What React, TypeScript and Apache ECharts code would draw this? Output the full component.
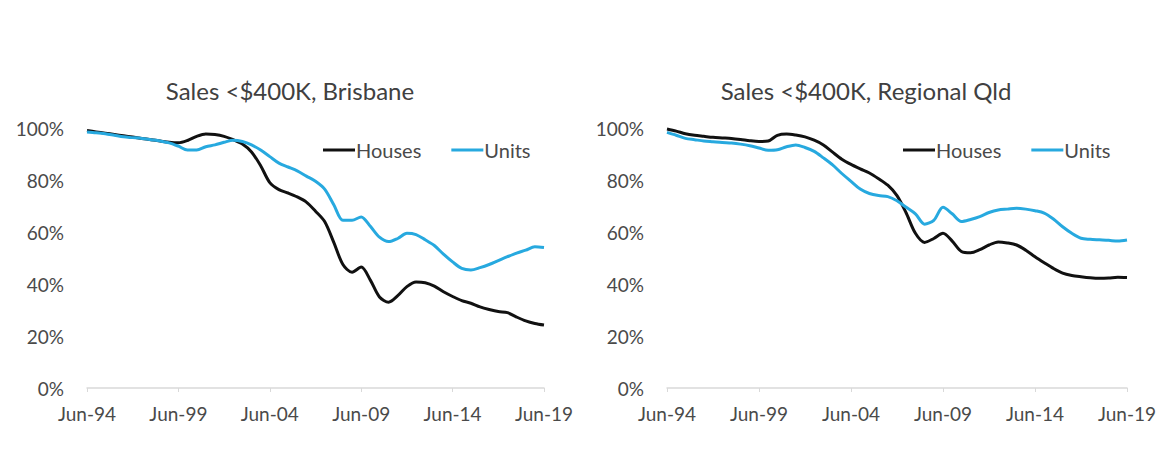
import React, { useEffect, useRef } from "react";
import * as echarts from "echarts";

const categories = [
  "Jun-94","Dec-94","Jun-95","Dec-95","Jun-96","Dec-96","Jun-97","Dec-97","Jun-98","Dec-98",
  "Jun-99","Dec-99","Jun-00","Dec-00","Jun-01","Dec-01","Jun-02","Dec-02","Jun-03","Dec-03",
  "Jun-04","Dec-04","Jun-05","Dec-05","Jun-06","Dec-06","Jun-07","Dec-07","Jun-08","Dec-08",
  "Jun-09","Dec-09","Jun-10","Dec-10","Jun-11","Dec-11","Jun-12","Dec-12","Jun-13","Dec-13",
  "Jun-14","Dec-14","Jun-15","Dec-15","Jun-16","Dec-16","Jun-17","Dec-17","Jun-18","Dec-18",
  "Jun-19",
];

const brisbaneHouses = [
  99, 98.5, 98, 97.5, 97, 96.5, 96, 95.5, 95, 94.5,
  94.3, 95.2, 96.8, 97.7, 97.5, 96.8, 95.5, 93.8, 90.8, 85.5,
  79, 76.3, 75, 73.5, 71.5, 68, 64, 56, 47.5, 44.5,
  46.5, 41.5, 35, 33, 35.5, 39, 40.8, 40.5, 39.2, 37,
  35.2, 33.6, 32.6, 31.2, 30.2, 29.4, 29, 27.3, 25.8, 24.8,
  24.2,
];

const brisbaneUnits = [
  98.5, 98.2, 97.8, 97.2, 96.6, 96.3, 96, 95.5, 95, 94.3,
  93, 91.5, 91.5, 92.8, 93.5, 94.5, 95.3, 94.8, 93.5, 91.5,
  89, 86.5, 85, 83.5, 81.5, 79.5, 76.5, 70.5, 64.5, 64.5,
  65.8, 62.2, 58, 56.3, 57.5, 59.5, 59, 57, 54.8, 51.5,
  48.5, 46, 45.4, 46.3, 47.5, 49, 50.5, 51.9, 53, 54.3,
  54,
];

const regionalHouses = [
  99.6, 98.8, 97.8, 97.2, 96.8, 96.4, 96.2, 96, 95.6, 95.1,
  94.8, 95, 97.2, 97.7, 97.3, 96.6, 95.3, 93.5, 90.7, 88,
  86, 84.3, 82.7, 80.5, 78, 74, 67.3, 59.5, 56, 57.5,
  59.5, 56.5, 52.5, 52, 53.2, 55, 56.2, 55.8, 55, 53,
  50.5, 48.2, 46, 44.2, 43.3, 42.8, 42.4, 42.2, 42.3, 42.6,
  42.5,
];

const regionalUnits = [
  98.3, 97.2, 96, 95.5, 95, 94.7, 94.4, 94.2, 93.8, 93.2,
  92.3, 91.4, 91.6, 92.8, 93.5, 92.5, 91, 88.5, 85.8, 82.5,
  79.5, 76.5, 74.8, 74, 73.6, 72, 69.5, 67, 63, 64.5,
  69.5, 67, 64, 64.8, 65.9, 67.5, 68.5, 68.8, 69.1, 68.8,
  68.2, 67.3, 65, 62, 59.5, 57.6, 57.2, 57, 56.8, 56.5,
  56.9,
];

const titles = ["Sales <$400K, Brisbane", "Sales <$400K, Regional Qld"];
const seriesNames = ["Houses", "Units"];

const FONT = "Lato, 'Open Sans', sans-serif";
const LABEL_COLOR = "#4a4a4a";
const HOUSE_COLOR = "#111111";
const UNIT_COLOR = "#27a9df";

export default function App() {
  const ref = useRef<HTMLDivElement>(null);

  useEffect(() => {
    if (!ref.current) return;
    const chart = echarts.init(ref.current, undefined, { renderer: "svg" });

    const grids = [
      { left: 87, right: 1160 - 544, top: 128, bottom: 80 },
      { left: 667, right: 1160 - 1127, top: 128, bottom: 80 },
    ];

    const mkX = (i: number) => ({
      type: "category",
      gridIndex: i,
      data: categories,
      boundaryGap: false,
      axisLine: { show: true, lineStyle: { color: "#d9d9d9", width: 1.5 } },
      axisTick: { show: true, interval: 9, length: 4, lineStyle: { color: "#d9d9d9" } },
      axisLabel: {
        interval: 9,
        color: LABEL_COLOR,
        fontFamily: FONT,
        fontSize: 19,
        margin: 16,
      },
      splitLine: { show: false },
    });

    const mkY = (i: number) => ({
      type: "value",
      gridIndex: i,
      min: 0,
      max: 100,
      interval: 20,
      axisLine: { show: false },
      axisTick: { show: false },
      splitLine: { show: false },
      axisLabel: {
        formatter: "{value}%",
        color: LABEL_COLOR,
        fontFamily: FONT,
        fontSize: 19,
        margin: 23,
      },
    });

    const line = (name: string, data: number[], idx: number, color: string) => ({
      name,
      type: "line",
      xAxisIndex: idx,
      yAxisIndex: idx,
      data,
      showSymbol: false,
      smooth: 0.3,
      lineStyle: { color, width: 3 },
      itemStyle: { color },
      z: name === "Houses" ? 2 : 3,
    });

    const legend = (left: number) => ({
      left,
      top: 135,
      data: seriesNames,
      icon: "rect",
      itemWidth: 32,
      itemHeight: 3,
      itemGap: 30,
      selectedMode: false,
      textStyle: {
        color: LABEL_COLOR,
        fontFamily: FONT,
        fontSize: 20,
        padding: [0, 0, 0, -4],
      },
    });

    chart.setOption({
      animation: false,
      backgroundColor: "#ffffff",
      grid: grids,
      xAxis: [mkX(0), mkX(1)],
      yAxis: [mkY(0), mkY(1)],
      legend: [legend(318), legend(898)],
      graphic: [
        {
          type: "text",
          x: 290,
          y: 90,
          style: {
            text: titles[0],
            fill: "#404040",
            font: `24px ${FONT}`,
            textAlign: "center",
            textVerticalAlign: "middle",
          },
        },
        {
          type: "text",
          x: 866,
          y: 90,
          style: {
            text: titles[1],
            fill: "#404040",
            font: `24px ${FONT}`,
            textAlign: "center",
            textVerticalAlign: "middle",
          },
        },
      ],
      series: [
        line(seriesNames[0], brisbaneHouses, 0, HOUSE_COLOR),
        line(seriesNames[1], brisbaneUnits, 0, UNIT_COLOR),
        line(seriesNames[0], regionalHouses, 1, HOUSE_COLOR),
        line(seriesNames[1], regionalUnits, 1, UNIT_COLOR),
      ],
    });

    return () => chart.dispose();
  }, []);

  return (
    <div
      ref={ref}
      style={{ position: "fixed", left: 0, top: 0, width: 1160, height: 468, background: "#fff" }}
    />
  );
}
